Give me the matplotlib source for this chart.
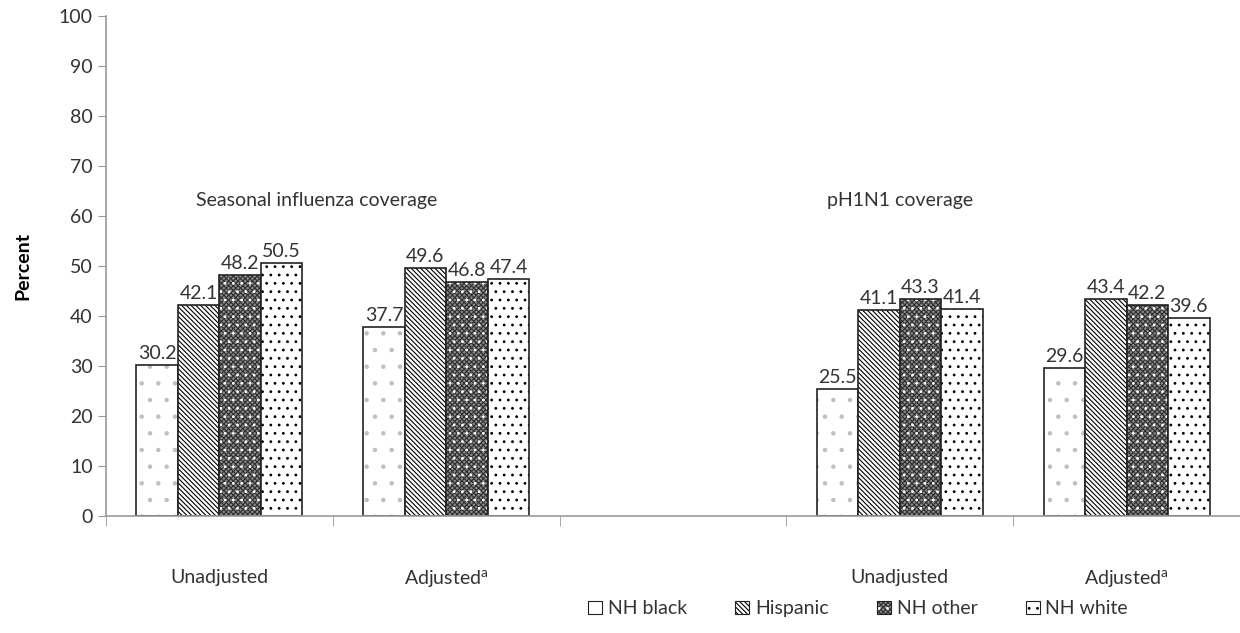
import matplotlib
matplotlib.use("Agg")
import matplotlib.pyplot as plt
from matplotlib.patches import Patch
from matplotlib.legend_handler import HandlerTuple
import numpy as np

plt.rcParams['font.family'] = ['Lato', 'DejaVu Sans']
plt.rcParams['hatch.linewidth'] = 0.8

# data
categories = ["Unadjusted", r"Adjusted$^{\mathregular{a}}$", "", "Unadjusted", r"Adjusted$^{\mathregular{a}}$"]
groups = ["NH black", "Hispanic", "NH other", "NH white"]
nh_black = [30.2, 37.7, None, 25.5, 29.6]
hispanic = [42.1, 49.6, None, 41.1, 43.4]
nh_other = [48.2, 46.8, None, 43.3, 42.2]
nh_white = [50.5, 47.4, None, 41.4, 39.6]
series = [nh_black, hispanic, nh_other, nh_white]
section_titles = ["Seasonal influenza coverage", "pH1N1 coverage"]

# layered hatch styles: (facecolor, hatch, hatch colour)
styles = [
    [("white", ".", "#c0c0c0")],
    [("white", "\\" * 7, "black")],
    [("#8a8a8a", "x" * 7, "#303030"), ("none", "..", "white")],
    [("white", "..", "black")],
]

fig = plt.figure(figsize=(12.4, 6.33), dpi=100)
ax = fig.add_axes([0.0855, 0.1848, 0.9145, 0.79])

x = np.arange(len(categories))
w = 0.183
offsets = (np.arange(4) - 1.5) * w
txt = "#333333"
fs = 14

for vals, off, st in zip(series, offsets, styles):
    xs = [xi + off for xi, v in zip(x, vals) if v is not None]
    hs = [v for v in vals if v is not None]
    for fc, hatch, hc in st:
        ax.bar(xs, hs, width=w, color=fc, edgecolor=hc, hatch=hatch, linewidth=0)
    ax.bar(xs, hs, width=w, fill=False, edgecolor="#222222", linewidth=1.2)
    for xx, v in zip(xs, hs):
        ax.text(xx, v + 0.6, f"{v:.1f}", ha="center", va="bottom", fontsize=fs, color=txt)

ax.text(0.43, 63, section_titles[0], ha="center", va="center", fontsize=fs, color=txt)
ax.text(3.0, 63, section_titles[1], ha="center", va="center", fontsize=fs, color=txt)

ax.set_xlim(-0.5, len(categories) - 0.5)
ax.set_ylim(0, 100)
ax.set_yticks(range(0, 101, 10))
ax.set_xticks(x)
ax.set_xticklabels(categories, fontsize=fs, color=txt)
ax.tick_params(axis="x", length=0, pad=38)
ax.set_xticks(np.arange(-0.5, len(categories), 1), minor=True)
ax.tick_params(axis="x", which="minor", length=7, color="#999999", direction="out")
ax.tick_params(axis="y", labelsize=fs, labelcolor=txt, color="#999999", length=6)
for s in ["top", "right"]:
    ax.spines[s].set_visible(False)
for s in ["left", "bottom"]:
    ax.spines[s].set_color("#999999")
    ax.spines[s].set_linewidth(1.2)
ax.set_ylabel("Percent", fontsize=fs, fontweight="bold", color="black", labelpad=20)

handles = []
for st in styles:
    parts = [Patch(facecolor=fc, edgecolor=hc, hatch=h, linewidth=0) for fc, h, hc in st]
    parts.append(Patch(fill=False, edgecolor="#222222", linewidth=0.8))
    handles.append(tuple(parts))
fig.legend(handles, groups, loc="center", bbox_to_anchor=(0.692, 0.038), ncol=4,
           frameon=False, fontsize=fs, handlelength=0.7, handleheight=0.7,
           handletextpad=0.3, columnspacing=2.5, labelcolor=txt,
           handler_map={tuple: HandlerTuple(ndivide=1)})

fig.savefig("out.png", dpi=100)
